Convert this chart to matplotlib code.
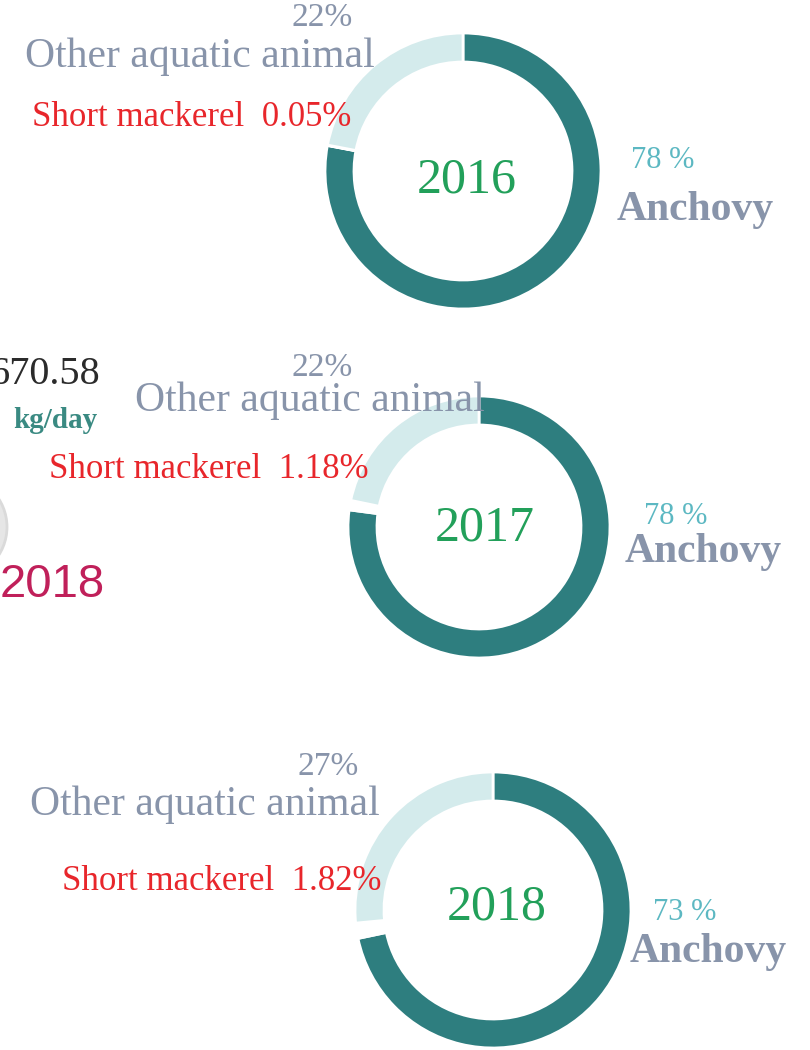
import matplotlib
matplotlib.use("Agg")
from matplotlib import pyplot as plt
from matplotlib.patches import Circle

# Data
years = ["2016", "2017", "2018"]
anchovy_pct = [78, 78, 73]
other_pct = [22, 22, 27]
mackerel_pct = [0.05, 1.18, 1.82]
anchovy_labels = ["78 %", "78 %", "73 %"]
other_labels = ["22%", "22%", "27%"]
mackerel_labels = ["0.05%", "1.18%", "1.82%"]
daily_catch = "670.58"
daily_unit = "kg/day"
side_year = "2018"

W, H = 810, 1050
TEAL = "#2E7E7F"
LIGHT = "#D4EBEC"
GREY_BLUE = "#8894AA"
CYAN = "#5CB8C2"
GREEN = "#22A05A"
RED = "#E8262B"
SERIF = "Liberation Serif"

# donut layout in pixel coords (x, y from top, outer radius)
donuts = [(463, 171, 138), (479, 527, 131), (493, 910, 138)]
ring_w = 29

# label positions per donut (pixel centres)
pos = [
    dict(pct=(322, 18), other=(200, 57), mack=(192, 117), year=(467, 180), apct=(663, 161), anch=(695, 210)),
    dict(pct=(322, 368), other=(310, 401), mack=(209, 470), year=(485, 528), apct=(676, 517), anch=(703, 552)),
    dict(pct=(328, 767), other=(205, 805), mack=(222, 882), year=(497, 907), apct=(685, 912), anch=(708, 952)),
]


def fy(y):
    """
    Flip a y pixel position (from top) to data coords.
    """
    return H - y


fig = plt.figure(figsize=(W / 100, H / 100), dpi=100)
ax = fig.add_axes([0, 0, 1, 1])

for i, (cx, cy, r) in enumerate(donuts):
    ax.pie([anchovy_pct[i], mackerel_pct[i], other_pct[i]],
           colors=[TEAL, "white", LIGHT], startangle=90, counterclock=False,
           center=(cx, fy(cy)), radius=r,
           wedgeprops=dict(width=ring_w, edgecolor="white", linewidth=2))

    p = pos[i]
    ax.text(p["pct"][0], fy(p["pct"][1]), other_labels[i], ha="center", va="center",
            fontsize=24, color=GREY_BLUE, family=SERIF)
    ax.text(p["other"][0], fy(p["other"][1]), "Other aquatic animal", ha="center", va="center",
            fontsize=30, color=GREY_BLUE, family=SERIF)
    ax.text(p["mack"][0], fy(p["mack"][1]), "Short mackerel  " + mackerel_labels[i],
            ha="center", va="center", fontsize=25, color=RED, family=SERIF)
    ax.text(p["year"][0], fy(p["year"][1]), years[i], ha="center", va="center",
            fontsize=36, color=GREEN, family=SERIF)
    ax.text(p["apct"][0], fy(p["apct"][1]), anchovy_labels[i], ha="center", va="center",
            fontsize=22, color=CYAN, family=SERIF)
    ax.text(p["anch"][0], fy(p["anch"][1]), "Anchovy", ha="center", va="center",
            fontsize=30, color=GREY_BLUE, family=SERIF, fontweight="bold")

# left side panel remnants (cut off at the edge, as in the reference)
ax.add_patch(Circle((-45, fy(527)), 52, facecolor="#E6E6E6", edgecolor="#DADADA", linewidth=2))
ax.text(100, fy(375), daily_catch, ha="right", va="center", fontsize=29,
        color="#2B2B2B", family=SERIF)
ax.text(55, fy(420), daily_unit, ha="center", va="center", fontsize=21,
        color="#3A8A82", family=SERIF, fontweight="bold")
ax.text(52, fy(585), side_year, ha="center", va="center", fontsize=34,
        color="#C0205A", family="Liberation Sans")

ax.set_xlim(0, W)
ax.set_ylim(0, H)
ax.set_aspect("equal")
ax.axis("off")

fig.savefig("out.png", dpi=100)
